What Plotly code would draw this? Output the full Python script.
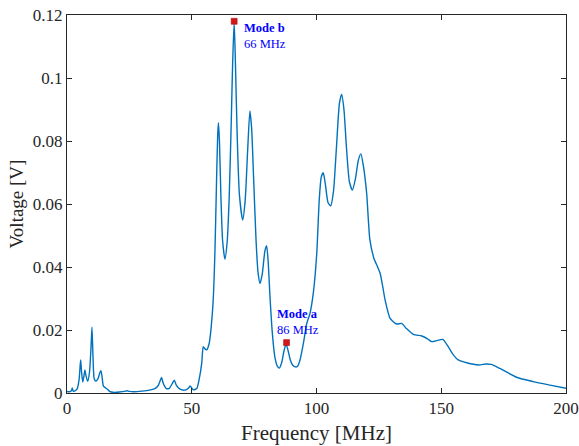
import plotly.graph_objects as go

freq_mhz = [0, 1, 1.8, 2.1, 2.5, 3.2, 4.0, 4.8, 5.3, 5.5, 5.8, 6.3, 6.8, 7.2, 7.6, 8.3, 9.0, 9.6, 10.0, 10.4,
            10.9, 11.5, 12.4, 13.2, 13.6, 14.0, 14.6, 15.5, 16.2, 17.2, 19, 21, 23.0, 24.0, 25.0, 27, 30, 33, 35,
            36.5, 37.3, 37.9, 38.6, 39.7, 41, 42.2, 43.0, 43.8, 45.3, 47.3, 48.6, 49.3, 50.0, 50.6, 52.0, 53.0,
            54.0, 54.6, 55.3, 56.0, 57.0, 57.8, 58.6, 59.3, 59.9, 60.4, 60.7, 61.1, 61.7, 62.4, 63.3, 64.2, 65.0,
            65.8, 66.4, 67.0, 67.5, 68.2, 69.1, 70.4, 71.4, 72.4, 73.3, 74.0, 74.8, 75.8, 76.6, 77.4, 78.3, 79.3,
            80.0, 80.6, 81.4, 82.3, 83.3, 84.3, 85.1, 86.0, 87.0, 87.8, 88.6, 89.5, 90.5, 91.5, 92.3, 93.4, 94.8,
            96.1, 97.4, 98.7, 100.1, 101.1, 101.9, 102.7, 103.6, 104.6, 105.7, 106.8, 108.0, 109.2, 110.1, 111.0,
            112.0, 113.2, 114.4, 115.6, 116.8, 117.8, 118.8, 120.1, 121.4, 123.0, 124.5, 125.5, 126.5, 127.5,
            129.5, 132.1, 134.1, 136.0, 138.8, 142.2, 144.5, 146.2, 148.5, 150.6, 152.8, 154.8, 156.8, 160.2,
            164.9, 168, 170.0, 173.5, 180.2, 186.9, 193.6, 200.0]
voltage_v = [0.0005, 0.0004, 0.0008, 0.0016, 0.0006, 0.0007, 0.0012, 0.004, 0.009, 0.0105, 0.007, 0.0035, 0.0055,
             0.0073, 0.0055, 0.0037, 0.0065, 0.014, 0.0209, 0.012, 0.0045, 0.0038, 0.0045, 0.0065, 0.0071, 0.0055,
             0.0022, 0.0016, 0.0012, 0.0004, 0.0002, 0.0003, 0.0005, 0.0007, 0.0005, 0.0004, 0.0006, 0.0009, 0.0013,
             0.0023, 0.0038, 0.0049, 0.0030, 0.0015, 0.0015, 0.0030, 0.0041, 0.0025, 0.0012, 0.0009, 0.0015, 0.0022,
             0.0016, 0.0010, 0.0014, 0.0045, 0.0095, 0.0147, 0.0140, 0.0137, 0.0158, 0.021, 0.0295, 0.045, 0.066,
             0.082, 0.0858, 0.080, 0.062, 0.048, 0.0425, 0.048, 0.062, 0.085, 0.105, 0.1178, 0.105, 0.082, 0.063,
             0.0549, 0.061, 0.077, 0.0895, 0.084, 0.068, 0.048, 0.038, 0.0348, 0.038, 0.045, 0.0468, 0.042, 0.030,
             0.019, 0.0115, 0.0085, 0.0079, 0.0095, 0.0135, 0.0155, 0.0135, 0.0105, 0.0088, 0.0083, 0.0084, 0.0105,
             0.016, 0.0221, 0.0253, 0.0316, 0.0443, 0.0613, 0.0685, 0.0699, 0.066, 0.0605, 0.0594, 0.064, 0.078,
             0.092, 0.0948, 0.090, 0.078, 0.067, 0.0644, 0.068, 0.074, 0.0759, 0.072, 0.0634, 0.0486, 0.0428, 0.040,
             0.038, 0.034, 0.0295, 0.0237, 0.0219, 0.0221, 0.0205, 0.0186, 0.0181, 0.0172, 0.0163, 0.0167, 0.0170,
             0.0147, 0.0122, 0.0105, 0.0096, 0.0089, 0.0092, 0.0091, 0.0078, 0.0050, 0.0036, 0.0025, 0.0015]

mode_freq = [67.0, 88.0]
mode_volt = [0.118, 0.016]
mode_names = ["Mode b", "Mode a"]
mode_labels = ["66 MHz", "86 MHz"]
label_x = [70.2, 83.2]
label_y = [0.1133, 0.0224]

x_ticks = [0, 50, 100, 150, 200]
y_ticks = [0, 0.02, 0.04, 0.06, 0.08, 0.1, 0.12]
y_tick_text = ["0", "0.02", "0.04", "0.06", "0.08", "0.1", "0.12"]

fig = go.Figure()
fig.add_trace(go.Scatter(x=freq_mhz, y=voltage_v, mode="lines",
                         line=dict(color="#0072BD", width=1.4, shape="spline", smoothing=0.6),
                         showlegend=False))
fig.add_trace(go.Scatter(x=mode_freq, y=mode_volt, mode="markers",
                         marker=dict(symbol="square", size=6, color="#D01818",
                                     line=dict(color="#B00000", width=0.5)),
                         showlegend=False))
for nm, lb, lx, ly in zip(mode_names, mode_labels, label_x, label_y):
    fig.add_annotation(x=lx, y=ly, xref="x", yref="y", xanchor="left", yanchor="middle",
                       text=f"<b>{nm}</b><br>{lb}", showarrow=False, align="left",
                       font=dict(family="Liberation Serif", size=12.5, color="#0000FF"))

axis_common = dict(showline=True, linecolor="#262626", linewidth=1, mirror="ticks",
                   ticks="inside", ticklen=5, tickcolor="#262626", tickwidth=1,
                   showgrid=False, zeroline=False, automargin=False, ticklabeloverflow="allow",
                   tickfont=dict(family="Liberation Serif", size=17, color="#262626"))
fig.update_xaxes(range=[0, 200], tickvals=x_ticks, **axis_common,
                 title=dict(text="Frequency [MHz]", font=dict(family="Liberation Serif", size=21, color="#262626"),
                            standoff=7))
fig.update_yaxes(range=[0, 0.12], tickvals=y_ticks, ticktext=y_tick_text, **axis_common,
                 title=dict(text="Voltage [V]", font=dict(family="Liberation Serif", size=19, color="#262626"),
                            standoff=4))
fig.update_layout(width=579, height=446, plot_bgcolor="white", paper_bgcolor="white",
                  margin=dict(l=67, r=12.5, t=15, b=53))
# remove the default page margin so the figure sits at the window origin
fig.write_html("out.html", config={"displayModeBar": False},
               post_script="document.body.style.margin='0';document.body.style.overflow='hidden';")
